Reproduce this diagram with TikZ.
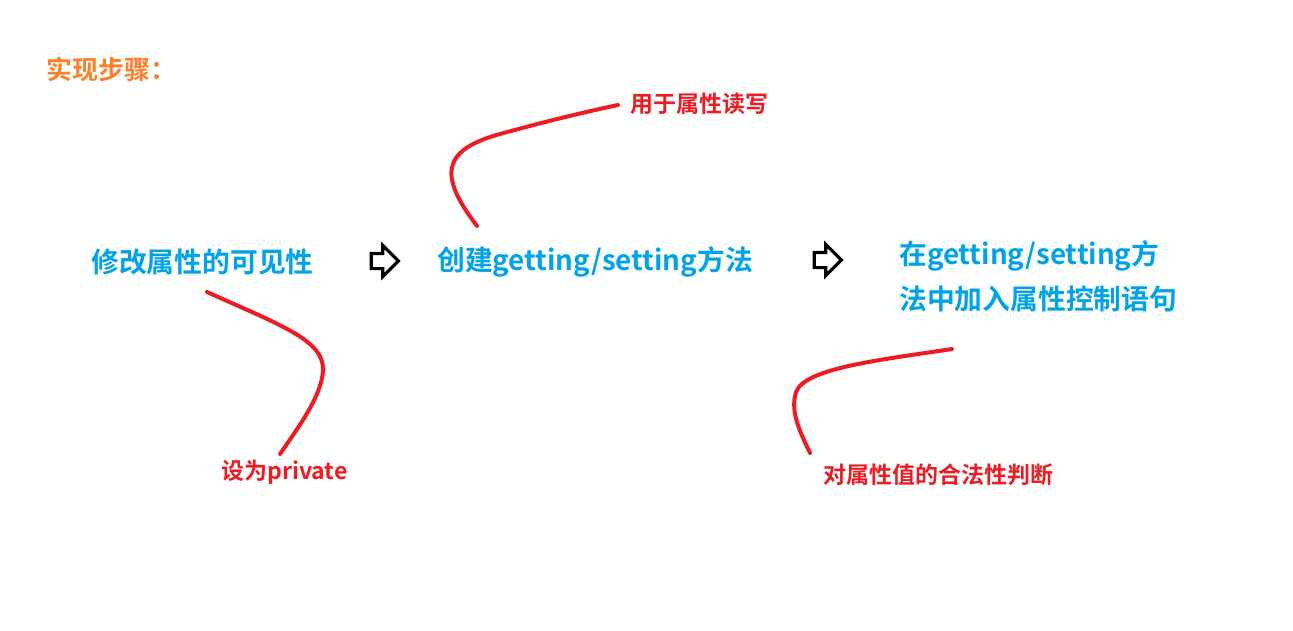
\documentclass[tikz,border=0pt]{standalone}
\usepackage{fontspec}
\setmainfont{Noto Sans CJK SC Bold}
\usetikzlibrary{shapes.arrows}

\begin{document}
\begin{tikzpicture}[x=1pt, y=-1pt, every node/.style={inner sep=0pt, anchor=west}]

\definecolor{StepBlue}{HTML}{00A2E8}
\definecolor{TitleOrange}{HTML}{FF7F27}
\definecolor{NoteRed}{HTML}{ED1C24}

\tikzset{
  steptext/.style={text=StepBlue, font=\fontsize{27.8}{45}\selectfont, align=left},
  notetext/.style={text=NoteRed, font=\fontsize{23}{27}\selectfont},
  nextarrow/.style={single arrow, draw=black, line width=3.2pt, fill=white,
    inner xsep=0pt, inner ysep=6pt, minimum height=27pt,
    single arrow head extend=8pt, anchor=center},
  noteline/.style={NoteRed, line width=4pt, line cap=round}
}

\useasboundingbox (0,0) rectangle (1293,631);

% Title
\node[text=TitleOrange, font=\fontsize{26}{30}\selectfont] (title) at (46,69) {实现步骤：};

% Steps
\node[steptext] (visible) at (91,262) {修改属性的可见性};
\node[steptext] (create) at (437,262) {创建getting/setting方法};
\node[steptext] (control) at (899,276) {在getting/setting方\\法中加入属性控制语句};

% Arrows between the steps
\node[nextarrow] (arrowA) at (381,261) {};
\node[nextarrow] (arrowB) at (824,260) {};

% Notes
\node[notetext] (readwrite) at (630,104) {用于属性读写};
\node[notetext] (private) at (221,472) {设为private};
\node[notetext] (check) at (823,475) {对属性值的合法性判断};

% Note lines
\coordinate (readwriteEnd) at (618,105);
\coordinate (createEnd) at (477,226);
\coordinate (visibleEnd) at (207,292);
\coordinate (privateEnd) at (280,454);
\coordinate (controlEnd) at (952,349);
\coordinate (checkEnd) at (810,453);

\draw[noteline] (createEnd) .. controls (438,175) and (442,150) .. (500,134)
  .. controls (540,123) and (580,113) .. (readwriteEnd);
\draw[noteline] (visibleEnd) .. controls (280,325) and (324,340) .. (323,370)
  .. controls (322,395) and (300,425) .. (privateEnd);
\draw[noteline] (controlEnd) .. controls (880,360) and (805,368) .. (796,392)
  .. controls (790,412) and (800,432) .. (checkEnd);
\end{tikzpicture}
\end{document}
